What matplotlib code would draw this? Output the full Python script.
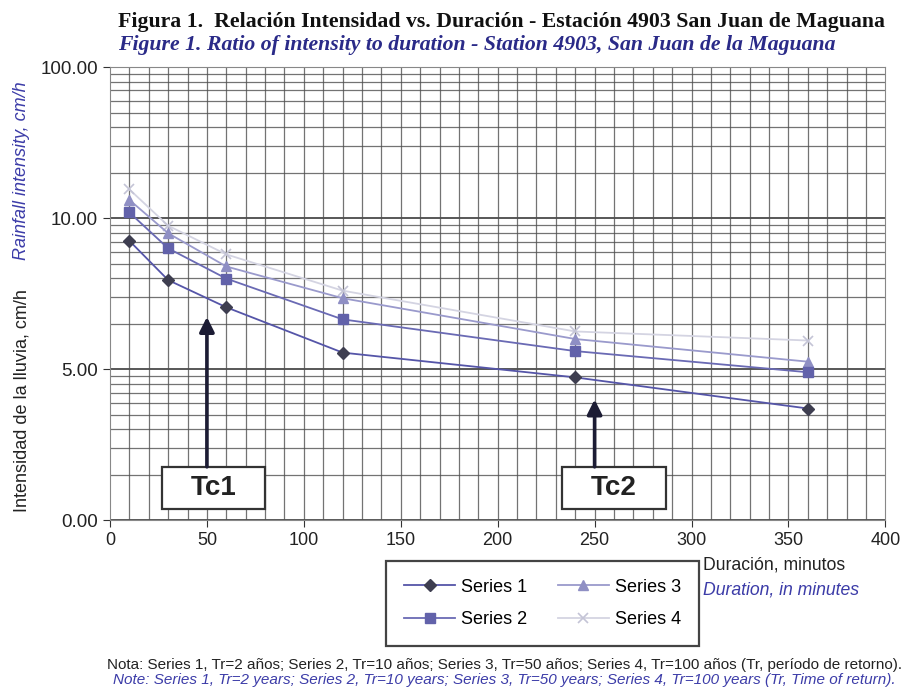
import numpy as np
import matplotlib
matplotlib.use("Agg")
from matplotlib import pyplot as plt
from matplotlib.patches import Rectangle

# duraciones (minutos) y las 4 series de intensidad (cm/h)
duracion = [10, 30, 60, 120, 240, 360]
serie1 = [9.25, 7.95, 7.05, 5.55, 4.73, 3.70]
serie2 = [10.9, 9.00, 8.00, 6.65, 5.60, 4.90]
serie3 = [13.2, 9.50, 8.40, 7.35, 6.00, 5.25]
serie4 = [15.5, 9.75, 8.80, 7.60, 6.25, 5.95]
nombres = ['Series 1', 'Series 2', 'Series 3', 'Series 4']

yticks = [0, 5, 10, 100]
ylabels = ['0.00', '5.00', '10.00', '100.00']
xticks = [0, 50, 100, 150, 200, 250, 300, 350, 400]

plt.rcParams['font.family'] = ['Liberation Sans', 'DejaVu Sans']
AZUL = '#3c3ca8'


# eje y raro: 0-5 y 5-10 ocupan una "decada" cada uno, 10-100 es log
def fwd(y):
    y = np.asarray(y, dtype=float)
    return np.where(y <= 10, y / 5.0, 2 + np.log10(np.maximum(y, 1e-9) / 10.0))


def inv(u):
    u = np.asarray(u, dtype=float)
    return np.where(u <= 2, u * 5.0, 10 * 10 ** (u - 2))


fig = plt.figure(figsize=(9.09, 6.91), dpi=100)
ax = fig.add_axes([0.121, 0.247, 0.853, 0.656])
ax.set_yscale('function', functions=(fwd, inv))
ax.set_xlim(0, 400)
ax.set_ylim(0, 100)

# rejilla tipo papel logaritmico
k = np.arange(2, 10)
menores = np.concatenate([5 * np.log10(k), 5 + 5 * np.log10(k), 10 * k])
for v in menores:
    ax.axhline(v, color='#505050', lw=0.9, alpha=0.8, zorder=0)
for v in yticks:
    ax.axhline(v, color='#2a2a2a', lw=1.1, zorder=0)
for v in range(10, 400, 10):
    ax.axvline(v, color='#505050', lw=0.9, alpha=0.8, zorder=0)

ax.plot(duracion, serie4, color='#d4d4e2', lw=1.3, marker='x', ms=7, mec='#c4c4d6', mew=1.2, label=nombres[3])
ax.plot(duracion, serie3, color='#9a9acc', lw=1.3, marker='^', ms=7, mfc='#8f8fc4', mec='#8f8fc4', label=nombres[2])
ax.plot(duracion, serie2, color='#6a6ab4', lw=1.3, marker='s', ms=7, mfc='#6262aa', mec='#6262aa', label=nombres[1])
ax.plot(duracion, serie1, color='#5555a8', lw=1.3, marker='D', ms=6, mfc='#3e3e50', mec='#3e3e50', label=nombres[0])

ax.set_yticks(yticks)
ax.set_yticklabels(ylabels)
ax.yaxis.set_minor_locator(matplotlib.ticker.NullLocator())
ax.set_xticks(xticks)
ax.tick_params(axis='y', labelsize=13.5)
ax.tick_params(axis='x', labelsize=13)
ax.tick_params(length=5, color='#333333', labelcolor='#222222')
for s in ax.spines.values():
    s.set_color('#888888')

# cajas Tc1 / Tc2 con flechas
for txt, (x0, x1), xa, ytip in [('Tc1', (27, 80), 50, 6.73), ('Tc2', (233, 287), 250, 4.0)]:
    ax.add_patch(Rectangle((x0, 0.37), x1 - x0, 1.40, fc='white', ec='#333333', lw=1.6, zorder=5))
    ax.text((x0 + x1) / 2, 1.07, txt, ha='center', va='center', fontsize=20, fontweight='bold',
            color='#222222', zorder=6)
    ax.annotate('', xy=(xa, ytip), xytext=(xa, 1.77),
                arrowprops=dict(arrowstyle='-|>', lw=2.6, color='#1c1c34', mutation_scale=22,
                                shrinkA=0, shrinkB=0), zorder=6)

# titulos
fig.text(0.13, 0.968, 'Figura 1.  Relación Intensidad vs. Duración - Estación 4903 San Juan de Maguana',
         family='Liberation Serif', fontweight='bold', fontsize=15.7, va='center', color='#111111')
fig.text(0.13, 0.935, 'Figure 1. Ratio of intensity to duration - Station 4903, San Juan de la Maguana',
         family='Liberation Serif', fontweight='bold', style='italic', fontsize=15.7, va='center', color='#2a2a88')

# etiquetas de ejes
fig.text(0.024, 0.42, 'Intensidad de la lluvia, cm/h', rotation=90, ha='center', va='center',
         fontsize=13, color='#222222')
fig.text(0.024, 0.753, 'Rainfall intensity, cm/h', rotation=90, ha='center', va='center',
         fontsize=13, style='italic', color=AZUL)
fig.text(0.773, 0.182, 'Duración, minutos', fontsize=12.7, va='center', color='#222222')
fig.text(0.773, 0.146, 'Duration, in minutes', fontsize=12.7, va='center', style='italic', color=AZUL)

h, l = ax.get_legend_handles_labels()
orden = [3, 2, 1, 0]
leg = fig.legend([h[i] for i in orden], [l[i] for i in orden], ncol=2, loc='center',
                 bbox_to_anchor=(0.597, 0.127), fontsize=13, fancybox=False, edgecolor='#444444',
                 framealpha=1, columnspacing=1.7, handlelength=2.8, borderpad=1.0, labelspacing=0.85,
                 handletextpad=0.35)
leg.get_frame().set_linewidth(1.6)

fig.text(0.555, 0.038, 'Nota: Series 1, Tr=2 años; Series 2, Tr=10 años; Series 3, Tr=50 años; '
         'Series 4, Tr=100 años (Tr, período de retorno).', ha='center', va='center', fontsize=11,
         color='#222222')
fig.text(0.555, 0.016, 'Note: Series 1, Tr=2 years; Series 2, Tr=10 years; Series 3, Tr=50 years; '
         'Series 4, Tr=100 years (Tr, Time of return).', ha='center', va='center', fontsize=11,
         style='italic', color=AZUL)

fig.savefig('out.png', dpi=100)
